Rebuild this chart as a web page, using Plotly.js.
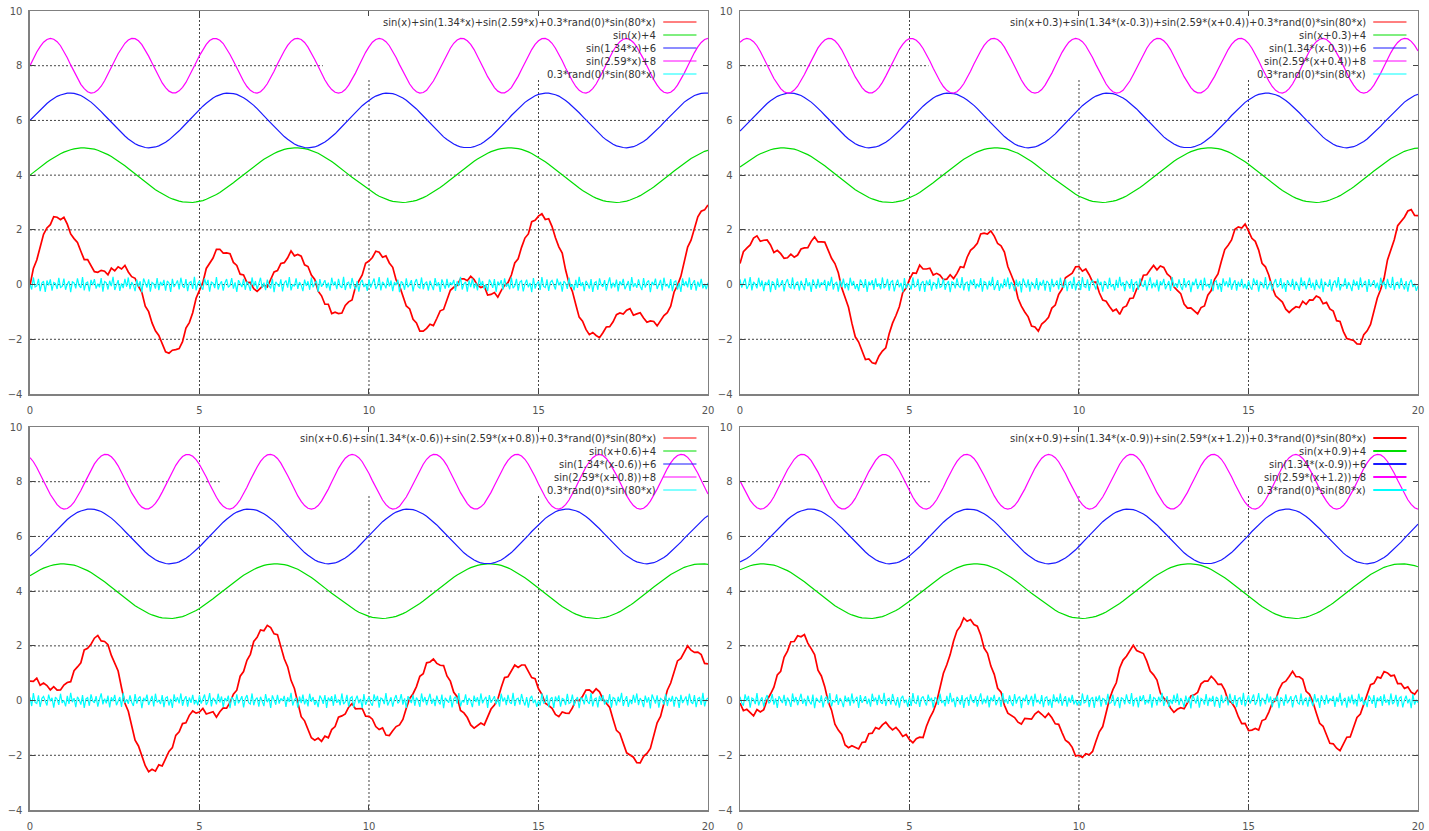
<!DOCTYPE html>
<html>
<head>
<meta charset="utf-8">
<script src="https://cdn.plot.ly/plotly-3.0.1.min.js"></script>
<style>html,body{margin:0;padding:0;background:#fff;}#chart{width:1429px;height:831px;}</style>
</head>
<body>
<div id="chart"></div>
<script>
// sampling: curves at x = 0, 0.1 ... 20 ; noise trace at x = 0, 0.05 ... 20
const X_START = 0;
const X_STEP = 0.1;
const NOISE_STEP = 0.05;
const X_RANGE = [0, 20];
const Y_RANGE = [-4, 10];
const xTickVals = [0, 5, 10, 15, 20];
const yTickVals = [-4, -2, 0, 2, 4, 6, 8, 10];

const legendText1 = ['sin(x)+sin(1.34*x)+sin(2.59*x)+0.3*rand(0)*sin(80*x)', 'sin(x)+4', 'sin(1.34*x)+6', 'sin(2.59*x)+8', '0.3*rand(0)*sin(80*x)'];
const legendText2 = ['sin(x+0.3)+sin(1.34*(x-0.3))+sin(2.59*(x+0.4))+0.3*rand(0)*sin(80*x)', 'sin(x+0.3)+4', 'sin(1.34*(x-0.3))+6', 'sin(2.59*(x+0.4))+8', '0.3*rand(0)*sin(80*x)'];
const legendText3 = ['sin(x+0.6)+sin(1.34*(x-0.6))+sin(2.59*(x+0.8))+0.3*rand(0)*sin(80*x)', 'sin(x+0.6)+4', 'sin(1.34*(x-0.6))+6', 'sin(2.59*(x+0.8))+8', '0.3*rand(0)*sin(80*x)'];
const legendText4 = ['sin(x+0.9)+sin(1.34*(x-0.9))+sin(2.59*(x+1.2))+0.3*rand(0)*sin(80*x)', 'sin(x+0.9)+4', 'sin(1.34*(x-0.9))+6', 'sin(2.59*(x+1.2))+8', '0.3*rand(0)*sin(80*x)'];

// ---------- panel 1 ----------
const red1 = [-0.03,0.59,0.90,1.35,1.84,2.07,2.19,2.48,2.46,2.37,
2.46,2.21,1.85,1.68,1.54,1.22,0.91,0.91,0.69,0.47,
0.45,0.52,0.49,0.36,0.60,0.50,0.65,0.57,0.70,0.46,
0.29,0.23,-0.07,-0.28,-0.79,-0.99,-1.40,-1.69,-1.86,-2.15,
-2.46,-2.51,-2.40,-2.38,-2.34,-2.09,-1.59,-1.39,-1.03,-0.50,
-0.18,0.08,0.59,0.79,0.97,1.29,1.29,1.15,1.16,1.13,
0.81,0.70,0.38,0.35,0.07,0.08,-0.15,-0.25,-0.11,-0.01,
-0.09,0.19,0.46,0.51,0.77,0.80,0.98,1.23,1.05,1.10,
1.04,0.72,0.66,0.35,0.19,-0.24,-0.41,-0.72,-0.72,-1.06,
-1.01,-1.06,-1.04,-0.76,-0.63,-0.56,-0.09,0.13,0.35,0.78,
0.86,0.99,1.22,1.18,1.00,1.05,0.79,0.63,0.17,-0.05,
-0.43,-0.78,-0.89,-1.27,-1.40,-1.70,-1.70,-1.60,-1.45,-1.50,
-1.24,-0.96,-0.91,-0.58,-0.21,-0.10,-0.03,0.21,0.21,0.14,
0.30,0.18,-0.03,-0.11,-0.06,-0.38,-0.36,-0.29,-0.46,-0.22,
-0.03,0.07,0.35,0.79,0.94,1.36,1.70,1.85,2.30,2.35,
2.50,2.59,2.38,2.41,2.12,1.71,1.38,1.15,0.53,0.05,
-0.25,-0.73,-1.19,-1.34,-1.64,-1.83,-1.75,-1.86,-1.94,-1.76,
-1.55,-1.54,-1.36,-1.10,-1.04,-1.08,-0.94,-0.88,-1.12,-1.07,
-1.03,-1.22,-1.38,-1.33,-1.35,-1.51,-1.32,-1.13,-1.03,-0.79,
-0.27,-0.03,0.30,0.86,1.37,1.62,2.03,2.48,2.68,2.73,
2.91];
const green1 = [4.00,4.10,4.20,4.30,4.39,4.48,4.56,4.64,4.72,4.78,
4.84,4.89,4.93,4.96,4.99,5.00,5.00,4.99,4.97,4.95,
4.91,4.86,4.81,4.75,4.68,4.60,4.52,4.43,4.34,4.24,
4.14,4.04,3.94,3.84,3.74,3.65,3.56,3.47,3.39,3.31,
3.24,3.18,3.13,3.08,3.05,3.02,3.01,3.00,3.00,3.02,
3.04,3.07,3.12,3.17,3.23,3.29,3.37,3.45,3.54,3.63,
3.72,3.82,3.92,4.02,4.12,4.22,4.31,4.40,4.49,4.58,
4.66,4.73,4.79,4.85,4.90,4.94,4.97,4.99,5.00,5.00,
4.99,4.97,4.94,4.90,4.85,4.80,4.73,4.66,4.59,4.50,
4.41,4.32,4.22,4.12,4.02,3.92,3.83,3.73,3.63,3.54,
3.46,3.37,3.30,3.23,3.17,3.12,3.08,3.04,3.02,3.00,
3.00,3.01,3.02,3.05,3.08,3.12,3.18,3.24,3.31,3.38,
3.46,3.55,3.64,3.74,3.83,3.93,4.03,4.13,4.23,4.33,
4.42,4.51,4.59,4.67,4.74,4.80,4.86,4.91,4.94,4.97,
4.99,5.00,5.00,4.99,4.97,4.94,4.90,4.85,4.79,4.72,
4.65,4.57,4.49,4.40,4.30,4.21,4.11,4.01,3.91,3.81,
3.71,3.62,3.53,3.44,3.36,3.29,3.22,3.16,3.11,3.07,
3.04,3.02,3.00,3.00,3.01,3.02,3.05,3.09,3.13,3.19,
3.25,3.32,3.39,3.48,3.57,3.66,3.75,3.85,3.95,4.05,
4.15,4.25,4.34,4.44,4.52,4.61,4.68,4.75,4.81,4.87,
4.91];
const blue1 = [6.00,6.13,6.26,6.39,6.51,6.62,6.72,6.81,6.88,6.93,
6.97,7.00,7.00,6.99,6.95,6.91,6.84,6.76,6.67,6.56,
6.45,6.32,6.19,6.06,5.93,5.79,5.66,5.54,5.43,5.32,
5.23,5.15,5.09,5.04,5.01,5.00,5.01,5.03,5.07,5.13,
5.20,5.29,5.39,5.50,5.62,5.75,5.88,6.01,6.15,6.28,
6.40,6.52,6.63,6.73,6.82,6.89,6.94,6.98,7.00,7.00,
6.98,6.95,6.90,6.83,6.75,6.66,6.55,6.43,6.31,6.18,
6.04,5.91,5.78,5.65,5.53,5.41,5.31,5.22,5.14,5.08,
5.04,5.01,5.00,5.01,5.03,5.08,5.14,5.21,5.30,5.40,
5.51,5.64,5.76,5.90,6.03,6.16,6.29,6.42,6.54,6.64,
6.74,6.82,6.89,6.94,6.98,7.00,7.00,6.98,6.94,6.89,
6.82,6.74,6.64,6.54,6.42,6.29,6.16,6.03,5.90,5.76,
5.64,5.51,5.40,5.30,5.21,5.14,5.08,5.03,5.01,5.00,
5.01,5.04,5.08,5.14,5.22,5.31,5.41,5.53,5.65,5.78,
5.91,6.04,6.18,6.31,6.43,6.55,6.66,6.75,6.83,6.90,
6.95,6.98,7.00,7.00,6.98,6.94,6.89,6.82,6.73,6.63,
6.52,6.41,6.28,6.15,6.02,5.88,5.75,5.62,5.50,5.39,
5.29,5.20,5.13,5.07,5.03,5.01,5.00,5.01,5.04,5.09,
5.15,5.23,5.32,5.43,5.54,5.66,5.79,5.93,6.06,6.19,
6.32,6.45,6.56,6.67,6.76,6.84,6.91,6.95,6.99,7.00,
7.00];
const magenta1 = [8.00,8.26,8.50,8.70,8.86,8.96,9.00,8.97,8.88,8.73,
8.52,8.29,8.03,7.78,7.53,7.32,7.16,7.05,7.00,7.02,
7.11,7.25,7.45,7.68,7.93,8.19,8.44,8.65,8.82,8.94,
9.00,8.99,8.91,8.77,8.58,8.35,8.10,7.84,7.59,7.37,
7.20,7.07,7.01,7.01,7.08,7.21,7.39,7.62,7.87,8.12,
8.37,8.60,8.78,8.92,8.99,8.99,8.93,8.81,8.63,8.41,
8.17,7.91,7.66,7.43,7.24,7.10,7.02,7.00,7.05,7.17,
7.34,7.56,7.80,8.06,8.31,8.54,8.74,8.89,8.98,9.00,
8.96,8.85,8.68,8.47,8.23,7.98,7.72,7.48,7.28,7.13,
7.03,7.00,7.03,7.13,7.29,7.50,7.73,7.99,8.25,8.49,
8.69,8.86,8.96,9.00,8.97,8.88,8.73,8.53,8.30,8.04,
7.79,7.54,7.33,7.16,7.05,7.00,7.02,7.10,7.25,7.44,
7.67,7.92,8.18,8.43,8.64,8.82,8.94,9.00,8.99,8.91,
8.78,8.59,8.36,8.11,7.85,7.60,7.38,7.20,7.07,7.01,
7.01,7.08,7.20,7.39,7.61,7.86,8.11,8.37,8.59,8.78,
8.91,8.99,9.00,8.94,8.82,8.64,8.42,8.18,7.92,7.67,
7.44,7.24,7.10,7.02,7.00,7.05,7.16,7.33,7.55,7.79,
8.05,8.30,8.54,8.73,8.88,8.97,9.00,8.96,8.85,8.69,
8.48,8.24,7.99,7.73,7.49,7.29,7.13,7.03,7.00,7.03,
7.13,7.29,7.49,7.73,7.98,8.24,8.48,8.69,8.85,8.96,
9.00];
const cyan1 = [0.00,-0.18,0.26,-0.09,-0.05,0.21,-0.24,0.06,0.12,-0.27,
0.15,-0.03,0.19,-0.22,0.08,0.04,-0.16,0.25,-0.11,-0.07,
0.22,-0.19,0.02,0.13,-0.28,0.10,0.06,-0.14,0.23,-0.04,
-0.12,0.27,-0.21,0.05,0.09,-0.25,0.17,-0.02,0.20,-0.15,
0.03,-0.10,0.24,-0.26,0.11,0.07,-0.18,0.14,-0.06,0.28,
-0.20,0.01,0.16,-0.23,0.04,-0.13,0.21,-0.08,0.26,-0.17,
0.09,-0.02,-0.24,0.18,-0.07,0.12,-0.29,0.22,0.05,-0.11,
0.19,-0.26,0.08,0.03,-0.15,0.24,-0.20,0.10,-0.04,0.17,
-0.22,0.13,0.06,-0.27,0.21,-0.09,0.02,0.15,-0.18,0.25,
-0.05,-0.12,0.20,-0.24,0.07,0.11,-0.16,0.28,-0.21,0.04,
0.14,-0.08,-0.19,0.23,-0.02,0.17,-0.26,0.09,0.05,-0.13,
0.27,-0.18,0.01,0.12,-0.22,0.06,0.20,-0.10,-0.03,0.24,
-0.15,0.08,-0.27,0.16,0.04,-0.09,0.21,-0.19,0.11,-0.01,
-0.23,0.26,-0.06,0.13,-0.17,0.02,0.25,-0.12,0.07,-0.20,
0.18,-0.04,-0.14,0.22,-0.28,0.10,0.03,-0.08,0.19,-0.25,
0.06,0.15,-0.11,0.27,-0.21,0.01,-0.07,0.23,-0.16,0.09,
-0.02,-0.24,0.18,-0.05,0.12,-0.19,0.26,-0.10,0.04,0.14,
-0.27,0.20,-0.08,0.02,0.16,-0.13,0.07,-0.22,0.25,-0.03,
0.11,-0.17,0.21,-0.06,-0.12,0.28,-0.20,0.05,0.09,-0.15,
0.24,-0.01,-0.18,0.13,-0.26,0.08,0.17,-0.09,0.03,-0.23,
0.19,-0.11,0.06,0.22,-0.16,-0.04,0.27,-0.21,0.10,0.02,
-0.14,0.25,-0.07,0.15,-0.24,0.09,-0.02,0.18,-0.28,0.12,
0.05,-0.19,0.23,-0.10,0.01,0.16,-0.25,0.07,0.20,-0.08,
-0.13,0.26,-0.17,0.04,0.11,-0.22,0.14,-0.03,-0.20,0.24,
-0.06,0.09,-0.27,0.19,0.02,-0.15,0.21,-0.11,0.08,-0.01,
0.17,-0.23,0.12,-0.05,0.28,-0.18,0.03,0.10,-0.26,0.15,
-0.09,0.22,-0.14,0.06,-0.21,0.25,-0.04,0.13,-0.16,0.01,
-0.24,0.18,0.07,-0.12,0.20,-0.27,0.11,-0.02,0.16,-0.19,
0.23,-0.08,0.04,-0.17,0.26,-0.13,-0.05,0.21,-0.22,0.09,
0.14,-0.25,0.02,0.18,-0.10,0.06,-0.28,0.24,-0.15,0.03,
0.12,-0.20,0.27,-0.07,-0.11,0.19,-0.23,0.08,0.15,-0.04,
-0.18,0.22,-0.02,0.10,-0.26,0.13,0.05,-0.16,0.25,-0.09,
0.01,-0.21,0.17,-0.12,0.28,-0.06,0.09,-0.24,0.14,0.03,
-0.15,0.20,-0.27,0.06,0.11,-0.19,0.23,-0.01,-0.08,0.16,
-0.22,0.04,0.26,-0.14,0.07,-0.10,0.18,-0.25,0.12,-0.03,
0.21,-0.17,0.02,0.13,-0.23,0.27,-0.09,0.05,-0.12,0.19,
-0.06,-0.20,0.24,-0.11,0.08,0.15,-0.28,0.10,-0.02,0.22,
-0.16,0.03,0.17,-0.21,0.25,-0.07,0.01,-0.13,0.20,-0.24,
0.09,0.14,-0.18,0.06,-0.27,0.23,-0.05,0.12,-0.10,0.26,
-0.19,0.04,0.16,-0.22,0.11,-0.08,0.21,-0.14,0.02,-0.17,
0.07];

// ---------- panel 2 ----------
const red2 = [0.77,1.20,1.33,1.45,1.70,1.78,1.58,1.62,1.63,1.45,
1.17,1.25,1.13,0.96,0.98,1.11,1.00,1.08,1.30,1.34,
1.35,1.58,1.74,1.56,1.56,1.55,1.26,0.96,0.77,0.43,
-0.12,-0.47,-0.83,-1.41,-1.91,-2.10,-2.43,-2.74,-2.72,-2.86,
-2.89,-2.61,-2.43,-2.31,-1.80,-1.41,-1.13,-0.81,-0.29,-0.13,
0.19,0.43,0.41,0.71,0.57,0.57,0.60,0.35,0.41,0.34,
0.18,0.20,0.36,0.22,0.41,0.65,0.62,1.00,1.25,1.36,
1.51,1.85,1.88,1.85,1.96,1.77,1.50,1.42,1.19,0.66,
0.36,0.05,-0.50,-0.79,-1.00,-1.18,-1.52,-1.55,-1.70,-1.44,
-1.34,-1.20,-0.86,-0.75,-0.36,-0.17,0.25,0.34,0.42,0.65,
0.66,0.49,0.57,0.36,0.10,0.09,-0.30,-0.57,-0.61,-0.80,
-0.97,-0.90,-1.09,-0.84,-0.78,-0.51,-0.49,-0.17,-0.02,0.34,
0.36,0.54,0.70,0.54,0.68,0.63,0.39,0.28,-0.08,-0.21,
-0.33,-0.71,-0.86,-0.85,-0.96,-1.07,-0.84,-0.78,-0.39,-0.22,
0.19,0.39,0.85,1.28,1.44,1.63,2.02,2.11,2.07,2.21,
1.96,1.69,1.58,1.26,0.78,0.65,0.34,-0.10,-0.41,-0.52,
-0.64,-0.90,-1.02,-0.90,-0.81,-0.84,-0.61,-0.72,-0.56,-0.57,
-0.42,-0.48,-0.70,-0.65,-0.89,-0.97,-1.32,-1.35,-1.72,-1.97,
-2.00,-2.04,-2.17,-2.18,-1.83,-1.69,-1.46,-0.97,-0.49,-0.17,
0.23,0.90,1.30,1.64,2.15,2.32,2.46,2.69,2.74,2.53,
2.52];
const green2 = [4.30,4.39,4.48,4.56,4.64,4.72,4.78,4.84,4.89,4.93,
4.96,4.99,5.00,5.00,4.99,4.97,4.95,4.91,4.86,4.81,
4.75,4.68,4.60,4.52,4.43,4.34,4.24,4.14,4.04,3.94,
3.84,3.74,3.65,3.56,3.47,3.39,3.31,3.24,3.18,3.13,
3.08,3.05,3.02,3.01,3.00,3.00,3.02,3.04,3.07,3.12,
3.17,3.23,3.29,3.37,3.45,3.54,3.63,3.72,3.82,3.92,
4.02,4.12,4.22,4.31,4.40,4.49,4.58,4.66,4.73,4.79,
4.85,4.90,4.94,4.97,4.99,5.00,5.00,4.99,4.97,4.94,
4.90,4.85,4.80,4.73,4.66,4.59,4.50,4.41,4.32,4.22,
4.12,4.02,3.92,3.83,3.73,3.63,3.54,3.46,3.37,3.30,
3.23,3.17,3.12,3.08,3.04,3.02,3.00,3.00,3.01,3.02,
3.05,3.08,3.12,3.18,3.24,3.31,3.38,3.46,3.55,3.64,
3.74,3.83,3.93,4.03,4.13,4.23,4.33,4.42,4.51,4.59,
4.67,4.74,4.80,4.86,4.91,4.94,4.97,4.99,5.00,5.00,
4.99,4.97,4.94,4.90,4.85,4.79,4.72,4.65,4.57,4.49,
4.40,4.30,4.21,4.11,4.01,3.91,3.81,3.71,3.62,3.53,
3.44,3.36,3.29,3.22,3.16,3.11,3.07,3.04,3.02,3.00,
3.00,3.01,3.02,3.05,3.09,3.13,3.19,3.25,3.32,3.39,
3.48,3.57,3.66,3.75,3.85,3.95,4.05,4.15,4.25,4.34,
4.44,4.52,4.61,4.68,4.75,4.81,4.87,4.91,4.95,4.98,
4.99];
const blue2 = [5.61,5.74,5.87,6.00,6.13,6.26,6.39,6.51,6.62,6.72,
6.81,6.88,6.93,6.97,7.00,7.00,6.99,6.95,6.91,6.84,
6.76,6.67,6.56,6.45,6.32,6.19,6.06,5.93,5.79,5.66,
5.54,5.43,5.32,5.23,5.15,5.09,5.04,5.01,5.00,5.01,
5.03,5.07,5.13,5.20,5.29,5.39,5.50,5.62,5.75,5.88,
6.01,6.15,6.28,6.40,6.52,6.63,6.73,6.82,6.89,6.94,
6.98,7.00,7.00,6.98,6.95,6.90,6.83,6.75,6.66,6.55,
6.43,6.31,6.18,6.04,5.91,5.78,5.65,5.53,5.41,5.31,
5.22,5.14,5.08,5.04,5.01,5.00,5.01,5.03,5.08,5.14,
5.21,5.30,5.40,5.51,5.64,5.76,5.90,6.03,6.16,6.29,
6.42,6.54,6.64,6.74,6.82,6.89,6.94,6.98,7.00,7.00,
6.98,6.94,6.89,6.82,6.74,6.64,6.54,6.42,6.29,6.16,
6.03,5.90,5.76,5.64,5.51,5.40,5.30,5.21,5.14,5.08,
5.03,5.01,5.00,5.01,5.04,5.08,5.14,5.22,5.31,5.41,
5.53,5.65,5.78,5.91,6.04,6.18,6.31,6.43,6.55,6.66,
6.75,6.83,6.90,6.95,6.98,7.00,7.00,6.98,6.94,6.89,
6.82,6.73,6.63,6.52,6.41,6.28,6.15,6.02,5.88,5.75,
5.62,5.50,5.39,5.29,5.20,5.13,5.07,5.03,5.01,5.00,
5.01,5.04,5.09,5.15,5.23,5.32,5.43,5.54,5.66,5.79,
5.93,6.06,6.19,6.32,6.45,6.56,6.67,6.76,6.84,6.91,
6.95];
const magenta2 = [8.86,8.96,9.00,8.97,8.88,8.73,8.52,8.29,8.03,7.78,
7.53,7.32,7.16,7.05,7.00,7.02,7.11,7.25,7.45,7.68,
7.93,8.19,8.44,8.65,8.82,8.94,9.00,8.99,8.91,8.77,
8.58,8.35,8.10,7.84,7.59,7.37,7.20,7.07,7.01,7.01,
7.08,7.21,7.39,7.62,7.87,8.12,8.37,8.60,8.78,8.92,
8.99,8.99,8.93,8.81,8.63,8.41,8.17,7.91,7.66,7.43,
7.24,7.10,7.02,7.00,7.05,7.17,7.34,7.56,7.80,8.06,
8.31,8.54,8.74,8.89,8.98,9.00,8.96,8.85,8.68,8.47,
8.23,7.98,7.72,7.48,7.28,7.13,7.03,7.00,7.03,7.13,
7.29,7.50,7.73,7.99,8.25,8.49,8.69,8.86,8.96,9.00,
8.97,8.88,8.73,8.53,8.30,8.04,7.79,7.54,7.33,7.16,
7.05,7.00,7.02,7.10,7.25,7.44,7.67,7.92,8.18,8.43,
8.64,8.82,8.94,9.00,8.99,8.91,8.78,8.59,8.36,8.11,
7.85,7.60,7.38,7.20,7.07,7.01,7.01,7.08,7.20,7.39,
7.61,7.86,8.11,8.37,8.59,8.78,8.91,8.99,9.00,8.94,
8.82,8.64,8.42,8.18,7.92,7.67,7.44,7.24,7.10,7.02,
7.00,7.05,7.16,7.33,7.55,7.79,8.05,8.30,8.54,8.73,
8.88,8.97,9.00,8.96,8.85,8.69,8.48,8.24,7.99,7.73,
7.49,7.29,7.13,7.03,7.00,7.03,7.13,7.29,7.49,7.73,
7.98,8.24,8.48,8.69,8.85,8.96,9.00,8.98,8.89,8.74,
8.54];
const cyan2 = [0.19,-0.11,0.06,0.22,-0.16,-0.04,0.27,-0.21,0.10,0.02,
-0.14,0.25,-0.07,0.15,-0.24,0.09,-0.02,0.18,-0.28,0.12,
0.05,-0.19,0.23,-0.10,0.01,0.16,-0.25,0.07,0.20,-0.08,
-0.13,0.26,-0.17,0.04,0.11,-0.22,0.14,-0.03,-0.20,0.24,
-0.06,0.09,-0.27,0.19,0.02,-0.15,0.21,-0.11,0.08,-0.01,
0.17,-0.23,0.12,-0.05,0.28,-0.18,0.03,0.10,-0.26,0.15,
-0.09,0.22,-0.14,0.06,-0.21,0.25,-0.04,0.13,-0.16,0.01,
-0.24,0.18,0.07,-0.12,0.20,-0.27,0.11,-0.02,0.16,-0.19,
0.23,-0.08,0.04,-0.17,0.26,-0.13,-0.05,0.21,-0.22,0.09,
0.14,-0.25,0.02,0.18,-0.10,0.06,-0.28,0.24,-0.15,0.03,
0.00,-0.18,0.26,-0.09,-0.05,0.21,-0.24,0.06,0.12,-0.27,
0.15,-0.03,0.19,-0.22,0.08,0.04,-0.16,0.25,-0.11,-0.07,
0.22,-0.19,0.02,0.13,-0.28,0.10,0.06,-0.14,0.23,-0.04,
-0.12,0.27,-0.21,0.05,0.09,-0.25,0.17,-0.02,0.20,-0.15,
0.03,-0.10,0.24,-0.26,0.11,0.07,-0.18,0.14,-0.06,0.28,
-0.20,0.01,0.16,-0.23,0.04,-0.13,0.21,-0.08,0.26,-0.17,
0.09,-0.02,-0.24,0.18,-0.07,0.12,-0.29,0.22,0.05,-0.11,
0.19,-0.26,0.08,0.03,-0.15,0.24,-0.20,0.10,-0.04,0.17,
-0.22,0.13,0.06,-0.27,0.21,-0.09,0.02,0.15,-0.18,0.25,
-0.05,-0.12,0.20,-0.24,0.07,0.11,-0.16,0.28,-0.21,0.04,
0.12,-0.20,0.27,-0.07,-0.11,0.19,-0.23,0.08,0.15,-0.04,
-0.18,0.22,-0.02,0.10,-0.26,0.13,0.05,-0.16,0.25,-0.09,
0.01,-0.21,0.17,-0.12,0.28,-0.06,0.09,-0.24,0.14,0.03,
-0.15,0.20,-0.27,0.06,0.11,-0.19,0.23,-0.01,-0.08,0.16,
-0.22,0.04,0.26,-0.14,0.07,-0.10,0.18,-0.25,0.12,-0.03,
0.21,-0.17,0.02,0.13,-0.23,0.27,-0.09,0.05,-0.12,0.19,
-0.06,-0.20,0.24,-0.11,0.08,0.15,-0.28,0.10,-0.02,0.22,
-0.16,0.03,0.17,-0.21,0.25,-0.07,0.01,-0.13,0.20,-0.24,
0.09,0.14,-0.18,0.06,-0.27,0.23,-0.05,0.12,-0.10,0.26,
-0.19,0.04,0.16,-0.22,0.11,-0.08,0.21,-0.14,0.02,-0.17,
0.14,-0.08,-0.19,0.23,-0.02,0.17,-0.26,0.09,0.05,-0.13,
0.27,-0.18,0.01,0.12,-0.22,0.06,0.20,-0.10,-0.03,0.24,
-0.15,0.08,-0.27,0.16,0.04,-0.09,0.21,-0.19,0.11,-0.01,
-0.23,0.26,-0.06,0.13,-0.17,0.02,0.25,-0.12,0.07,-0.20,
0.18,-0.04,-0.14,0.22,-0.28,0.10,0.03,-0.08,0.19,-0.25,
0.06,0.15,-0.11,0.27,-0.21,0.01,-0.07,0.23,-0.16,0.09,
-0.02,-0.24,0.18,-0.05,0.12,-0.19,0.26,-0.10,0.04,0.14,
-0.27,0.20,-0.08,0.02,0.16,-0.13,0.07,-0.22,0.25,-0.03,
0.11,-0.17,0.21,-0.06,-0.12,0.28,-0.20,0.05,0.09,-0.15,
0.24,-0.01,-0.18,0.13,-0.26,0.08,0.17,-0.09,0.03,-0.23,
-0.05];

// ---------- panel 3 ----------
const red3 = [0.71,0.70,0.82,0.56,0.64,0.55,0.39,0.51,0.38,0.39,
0.57,0.66,0.69,1.09,1.23,1.38,1.85,1.91,2.06,2.28,
2.38,2.18,2.16,2.04,1.65,1.39,1.08,0.47,-0.10,-0.39,
-0.93,-1.45,-1.66,-2.05,-2.38,-2.60,-2.51,-2.58,-2.35,-2.39,
-2.15,-1.86,-1.72,-1.27,-1.14,-0.84,-0.81,-0.54,-0.38,-0.46,
-0.42,-0.29,-0.49,-0.46,-0.41,-0.61,-0.41,-0.27,-0.28,-0.07,
0.23,0.38,0.89,1.06,1.47,1.69,2.16,2.31,2.58,2.55,
2.75,2.67,2.44,2.41,1.94,1.53,1.24,0.74,0.44,-0.08,
-0.59,-0.74,-1.03,-1.36,-1.45,-1.37,-1.49,-1.30,-1.36,-1.06,
-0.95,-0.61,-0.56,-0.49,-0.24,-0.11,-0.30,-0.29,-0.29,-0.57,
-0.58,-0.68,-0.95,-1.06,-1.00,-1.26,-1.28,-1.10,-0.95,-0.89,
-0.69,-0.28,0.08,0.25,0.51,0.89,0.98,1.38,1.41,1.52,
1.36,1.29,1.28,0.90,0.71,0.30,0.14,-0.36,-0.45,-0.62,
-0.89,-1.01,-0.93,-0.82,-0.89,-0.62,-0.31,-0.16,0.05,0.48,
0.84,0.87,1.09,1.30,1.21,1.30,1.30,1.04,0.84,0.80,
0.43,0.23,-0.10,-0.18,-0.28,-0.51,-0.59,-0.42,-0.46,-0.47,
-0.27,0.02,-0.01,0.16,0.38,0.39,0.28,0.43,0.32,0.06,
-0.09,-0.25,-0.68,-1.09,-1.20,-1.55,-1.91,-1.99,-2.07,-2.27,
-2.28,-2.04,-1.93,-1.75,-1.29,-0.81,-0.58,-0.11,0.38,0.64,
1.08,1.45,1.54,1.75,2.00,1.84,1.76,1.77,1.68,1.36,
1.34];
const green3 = [4.56,4.64,4.72,4.78,4.84,4.89,4.93,4.96,4.99,5.00,
5.00,4.99,4.97,4.95,4.91,4.86,4.81,4.75,4.68,4.60,
4.52,4.43,4.34,4.24,4.14,4.04,3.94,3.84,3.74,3.65,
3.56,3.47,3.39,3.31,3.24,3.18,3.13,3.08,3.05,3.02,
3.01,3.00,3.00,3.02,3.04,3.07,3.12,3.17,3.23,3.29,
3.37,3.45,3.54,3.63,3.72,3.82,3.92,4.02,4.12,4.22,
4.31,4.40,4.49,4.58,4.66,4.73,4.79,4.85,4.90,4.94,
4.97,4.99,5.00,5.00,4.99,4.97,4.94,4.90,4.85,4.80,
4.73,4.66,4.59,4.50,4.41,4.32,4.22,4.12,4.02,3.92,
3.83,3.73,3.63,3.54,3.46,3.37,3.30,3.23,3.17,3.12,
3.08,3.04,3.02,3.00,3.00,3.01,3.02,3.05,3.08,3.12,
3.18,3.24,3.31,3.38,3.46,3.55,3.64,3.74,3.83,3.93,
4.03,4.13,4.23,4.33,4.42,4.51,4.59,4.67,4.74,4.80,
4.86,4.91,4.94,4.97,4.99,5.00,5.00,4.99,4.97,4.94,
4.90,4.85,4.79,4.72,4.65,4.57,4.49,4.40,4.30,4.21,
4.11,4.01,3.91,3.81,3.71,3.62,3.53,3.44,3.36,3.29,
3.22,3.16,3.11,3.07,3.04,3.02,3.00,3.00,3.01,3.02,
3.05,3.09,3.13,3.19,3.25,3.32,3.39,3.48,3.57,3.66,
3.75,3.85,3.95,4.05,4.15,4.25,4.34,4.44,4.52,4.61,
4.68,4.75,4.81,4.87,4.91,4.95,4.98,4.99,5.00,5.00,
4.98];
const blue3 = [5.28,5.38,5.49,5.61,5.74,5.87,6.00,6.13,6.26,6.39,
6.51,6.62,6.72,6.81,6.88,6.93,6.97,7.00,7.00,6.99,
6.95,6.91,6.84,6.76,6.67,6.56,6.45,6.32,6.19,6.06,
5.93,5.79,5.66,5.54,5.43,5.32,5.23,5.15,5.09,5.04,
5.01,5.00,5.01,5.03,5.07,5.13,5.20,5.29,5.39,5.50,
5.62,5.75,5.88,6.01,6.15,6.28,6.40,6.52,6.63,6.73,
6.82,6.89,6.94,6.98,7.00,7.00,6.98,6.95,6.90,6.83,
6.75,6.66,6.55,6.43,6.31,6.18,6.04,5.91,5.78,5.65,
5.53,5.41,5.31,5.22,5.14,5.08,5.04,5.01,5.00,5.01,
5.03,5.08,5.14,5.21,5.30,5.40,5.51,5.64,5.76,5.90,
6.03,6.16,6.29,6.42,6.54,6.64,6.74,6.82,6.89,6.94,
6.98,7.00,7.00,6.98,6.94,6.89,6.82,6.74,6.64,6.54,
6.42,6.29,6.16,6.03,5.90,5.76,5.64,5.51,5.40,5.30,
5.21,5.14,5.08,5.03,5.01,5.00,5.01,5.04,5.08,5.14,
5.22,5.31,5.41,5.53,5.65,5.78,5.91,6.04,6.18,6.31,
6.43,6.55,6.66,6.75,6.83,6.90,6.95,6.98,7.00,7.00,
6.98,6.94,6.89,6.82,6.73,6.63,6.52,6.41,6.28,6.15,
6.02,5.88,5.75,5.62,5.50,5.39,5.29,5.20,5.13,5.07,
5.03,5.01,5.00,5.01,5.04,5.09,5.15,5.23,5.32,5.43,
5.54,5.66,5.79,5.93,6.06,6.19,6.32,6.45,6.56,6.67,
6.76];
const magenta3 = [8.88,8.73,8.52,8.29,8.03,7.78,7.53,7.32,7.16,7.05,
7.00,7.02,7.11,7.25,7.45,7.68,7.93,8.19,8.44,8.65,
8.82,8.94,9.00,8.99,8.91,8.77,8.58,8.35,8.10,7.84,
7.59,7.37,7.20,7.07,7.01,7.01,7.08,7.21,7.39,7.62,
7.87,8.12,8.37,8.60,8.78,8.92,8.99,8.99,8.93,8.81,
8.63,8.41,8.17,7.91,7.66,7.43,7.24,7.10,7.02,7.00,
7.05,7.17,7.34,7.56,7.80,8.06,8.31,8.54,8.74,8.89,
8.98,9.00,8.96,8.85,8.68,8.47,8.23,7.98,7.72,7.48,
7.28,7.13,7.03,7.00,7.03,7.13,7.29,7.50,7.73,7.99,
8.25,8.49,8.69,8.86,8.96,9.00,8.97,8.88,8.73,8.53,
8.30,8.04,7.79,7.54,7.33,7.16,7.05,7.00,7.02,7.10,
7.25,7.44,7.67,7.92,8.18,8.43,8.64,8.82,8.94,9.00,
8.99,8.91,8.78,8.59,8.36,8.11,7.85,7.60,7.38,7.20,
7.07,7.01,7.01,7.08,7.20,7.39,7.61,7.86,8.11,8.37,
8.59,8.78,8.91,8.99,9.00,8.94,8.82,8.64,8.42,8.18,
7.92,7.67,7.44,7.24,7.10,7.02,7.00,7.05,7.16,7.33,
7.55,7.79,8.05,8.30,8.54,8.73,8.88,8.97,9.00,8.96,
8.85,8.69,8.48,8.24,7.99,7.73,7.49,7.29,7.13,7.03,
7.00,7.03,7.13,7.29,7.49,7.73,7.98,8.24,8.48,8.69,
8.85,8.96,9.00,8.98,8.89,8.74,8.54,8.31,8.05,7.80,
7.55];
const cyan3 = [0.12,-0.20,0.27,-0.07,-0.11,0.19,-0.23,0.08,0.15,-0.04,
-0.18,0.22,-0.02,0.10,-0.26,0.13,0.05,-0.16,0.25,-0.09,
0.01,-0.21,0.17,-0.12,0.28,-0.06,0.09,-0.24,0.14,0.03,
-0.15,0.20,-0.27,0.06,0.11,-0.19,0.23,-0.01,-0.08,0.16,
-0.22,0.04,0.26,-0.14,0.07,-0.10,0.18,-0.25,0.12,-0.03,
0.21,-0.17,0.02,0.13,-0.23,0.27,-0.09,0.05,-0.12,0.19,
-0.06,-0.20,0.24,-0.11,0.08,0.15,-0.28,0.10,-0.02,0.22,
-0.16,0.03,0.17,-0.21,0.25,-0.07,0.01,-0.13,0.20,-0.24,
0.09,0.14,-0.18,0.06,-0.27,0.23,-0.05,0.12,-0.10,0.26,
-0.19,0.04,0.16,-0.22,0.11,-0.08,0.21,-0.14,0.02,-0.17,
0.19,-0.11,0.06,0.22,-0.16,-0.04,0.27,-0.21,0.10,0.02,
-0.14,0.25,-0.07,0.15,-0.24,0.09,-0.02,0.18,-0.28,0.12,
0.05,-0.19,0.23,-0.10,0.01,0.16,-0.25,0.07,0.20,-0.08,
-0.13,0.26,-0.17,0.04,0.11,-0.22,0.14,-0.03,-0.20,0.24,
-0.06,0.09,-0.27,0.19,0.02,-0.15,0.21,-0.11,0.08,-0.01,
0.17,-0.23,0.12,-0.05,0.28,-0.18,0.03,0.10,-0.26,0.15,
-0.09,0.22,-0.14,0.06,-0.21,0.25,-0.04,0.13,-0.16,0.01,
-0.24,0.18,0.07,-0.12,0.20,-0.27,0.11,-0.02,0.16,-0.19,
0.23,-0.08,0.04,-0.17,0.26,-0.13,-0.05,0.21,-0.22,0.09,
0.14,-0.25,0.02,0.18,-0.10,0.06,-0.28,0.24,-0.15,0.03,
0.14,-0.08,-0.19,0.23,-0.02,0.17,-0.26,0.09,0.05,-0.13,
0.27,-0.18,0.01,0.12,-0.22,0.06,0.20,-0.10,-0.03,0.24,
-0.15,0.08,-0.27,0.16,0.04,-0.09,0.21,-0.19,0.11,-0.01,
-0.23,0.26,-0.06,0.13,-0.17,0.02,0.25,-0.12,0.07,-0.20,
0.18,-0.04,-0.14,0.22,-0.28,0.10,0.03,-0.08,0.19,-0.25,
0.06,0.15,-0.11,0.27,-0.21,0.01,-0.07,0.23,-0.16,0.09,
-0.02,-0.24,0.18,-0.05,0.12,-0.19,0.26,-0.10,0.04,0.14,
-0.27,0.20,-0.08,0.02,0.16,-0.13,0.07,-0.22,0.25,-0.03,
0.11,-0.17,0.21,-0.06,-0.12,0.28,-0.20,0.05,0.09,-0.15,
0.24,-0.01,-0.18,0.13,-0.26,0.08,0.17,-0.09,0.03,-0.23,
0.00,-0.18,0.26,-0.09,-0.05,0.21,-0.24,0.06,0.12,-0.27,
0.15,-0.03,0.19,-0.22,0.08,0.04,-0.16,0.25,-0.11,-0.07,
0.22,-0.19,0.02,0.13,-0.28,0.10,0.06,-0.14,0.23,-0.04,
-0.12,0.27,-0.21,0.05,0.09,-0.25,0.17,-0.02,0.20,-0.15,
0.03,-0.10,0.24,-0.26,0.11,0.07,-0.18,0.14,-0.06,0.28,
-0.20,0.01,0.16,-0.23,0.04,-0.13,0.21,-0.08,0.26,-0.17,
0.09,-0.02,-0.24,0.18,-0.07,0.12,-0.29,0.22,0.05,-0.11,
0.19,-0.26,0.08,0.03,-0.15,0.24,-0.20,0.10,-0.04,0.17,
-0.22,0.13,0.06,-0.27,0.21,-0.09,0.02,0.15,-0.18,0.25,
-0.05,-0.12,0.20,-0.24,0.07,0.11,-0.16,0.28,-0.21,0.04,
0.10];

// ---------- panel 4 ----------
const red4 = [-0.09,-0.37,-0.32,-0.46,-0.56,-0.33,-0.42,-0.33,0.02,0.24,
0.49,0.94,1.07,1.58,1.81,2.15,2.16,2.37,2.33,2.41,
2.10,1.90,1.68,1.11,0.90,0.51,-0.03,-0.35,-0.86,-1.08,
-1.24,-1.62,-1.72,-1.65,-1.72,-1.77,-1.53,-1.51,-1.21,-1.19,
-0.99,-1.04,-0.89,-0.79,-0.95,-1.07,-0.98,-1.12,-1.31,-1.24,
-1.43,-1.54,-1.39,-1.34,-1.35,-0.94,-0.63,-0.40,-0.05,0.50,
1.00,1.31,1.68,2.18,2.55,2.72,3.02,2.90,2.96,2.78,
2.72,2.40,1.92,1.73,1.26,0.96,0.45,0.31,-0.17,-0.46,
-0.54,-0.62,-0.79,-0.86,-0.65,-0.67,-0.68,-0.49,-0.39,-0.50,
-0.62,-0.47,-0.63,-0.85,-0.87,-1.17,-1.45,-1.54,-1.71,-2.03,
-2.00,-2.08,-1.94,-1.98,-1.86,-1.49,-1.14,-0.95,-0.47,0.06,
0.40,0.65,1.19,1.48,1.62,1.82,2.02,1.83,1.77,1.72,
1.44,1.08,0.94,0.75,0.28,0.09,-0.02,-0.27,-0.43,-0.32,
-0.26,-0.30,-0.08,0.17,0.21,0.30,0.61,0.71,0.71,0.89,
0.76,0.59,0.60,0.38,-0.01,-0.07,-0.26,-0.59,-0.84,-0.83,
-1.10,-1.08,-1.02,-1.08,-0.73,-0.68,-0.42,-0.09,0.01,0.40,
0.64,0.71,0.88,1.07,0.87,0.87,0.78,0.34,0.23,-0.05,
-0.45,-0.83,-0.94,-1.28,-1.56,-1.58,-1.74,-1.83,-1.59,-1.34,
-1.33,-0.99,-0.62,-0.49,-0.11,0.27,0.58,0.63,0.86,0.82,
1.06,1.01,0.90,0.93,0.62,0.62,0.44,0.50,0.31,0.23,
0.40];
const green4 = [4.78,4.84,4.89,4.93,4.96,4.99,5.00,5.00,4.99,4.97,
4.95,4.91,4.86,4.81,4.75,4.68,4.60,4.52,4.43,4.34,
4.24,4.14,4.04,3.94,3.84,3.74,3.65,3.56,3.47,3.39,
3.31,3.24,3.18,3.13,3.08,3.05,3.02,3.01,3.00,3.00,
3.02,3.04,3.07,3.12,3.17,3.23,3.29,3.37,3.45,3.54,
3.63,3.72,3.82,3.92,4.02,4.12,4.22,4.31,4.40,4.49,
4.58,4.66,4.73,4.79,4.85,4.90,4.94,4.97,4.99,5.00,
5.00,4.99,4.97,4.94,4.90,4.85,4.80,4.73,4.66,4.59,
4.50,4.41,4.32,4.22,4.12,4.02,3.92,3.83,3.73,3.63,
3.54,3.46,3.37,3.30,3.23,3.17,3.12,3.08,3.04,3.02,
3.00,3.00,3.01,3.02,3.05,3.08,3.12,3.18,3.24,3.31,
3.38,3.46,3.55,3.64,3.74,3.83,3.93,4.03,4.13,4.23,
4.33,4.42,4.51,4.59,4.67,4.74,4.80,4.86,4.91,4.94,
4.97,4.99,5.00,5.00,4.99,4.97,4.94,4.90,4.85,4.79,
4.72,4.65,4.57,4.49,4.40,4.30,4.21,4.11,4.01,3.91,
3.81,3.71,3.62,3.53,3.44,3.36,3.29,3.22,3.16,3.11,
3.07,3.04,3.02,3.00,3.00,3.01,3.02,3.05,3.09,3.13,
3.19,3.25,3.32,3.39,3.48,3.57,3.66,3.75,3.85,3.95,
4.05,4.15,4.25,4.34,4.44,4.52,4.61,4.68,4.75,4.81,
4.87,4.91,4.95,4.98,4.99,5.00,5.00,4.98,4.96,4.93,
4.89];
const blue4 = [5.07,5.12,5.19,5.28,5.38,5.49,5.61,5.74,5.87,6.00,
6.13,6.26,6.39,6.51,6.62,6.72,6.81,6.88,6.93,6.97,
7.00,7.00,6.99,6.95,6.91,6.84,6.76,6.67,6.56,6.45,
6.32,6.19,6.06,5.93,5.79,5.66,5.54,5.43,5.32,5.23,
5.15,5.09,5.04,5.01,5.00,5.01,5.03,5.07,5.13,5.20,
5.29,5.39,5.50,5.62,5.75,5.88,6.01,6.15,6.28,6.40,
6.52,6.63,6.73,6.82,6.89,6.94,6.98,7.00,7.00,6.98,
6.95,6.90,6.83,6.75,6.66,6.55,6.43,6.31,6.18,6.04,
5.91,5.78,5.65,5.53,5.41,5.31,5.22,5.14,5.08,5.04,
5.01,5.00,5.01,5.03,5.08,5.14,5.21,5.30,5.40,5.51,
5.64,5.76,5.90,6.03,6.16,6.29,6.42,6.54,6.64,6.74,
6.82,6.89,6.94,6.98,7.00,7.00,6.98,6.94,6.89,6.82,
6.74,6.64,6.54,6.42,6.29,6.16,6.03,5.90,5.76,5.64,
5.51,5.40,5.30,5.21,5.14,5.08,5.03,5.01,5.00,5.01,
5.04,5.08,5.14,5.22,5.31,5.41,5.53,5.65,5.78,5.91,
6.04,6.18,6.31,6.43,6.55,6.66,6.75,6.83,6.90,6.95,
6.98,7.00,7.00,6.98,6.94,6.89,6.82,6.73,6.63,6.52,
6.41,6.28,6.15,6.02,5.88,5.75,5.62,5.50,5.39,5.29,
5.20,5.13,5.07,5.03,5.01,5.00,5.01,5.04,5.09,5.15,
5.23,5.32,5.43,5.54,5.66,5.79,5.93,6.06,6.19,6.32,
6.45];
const magenta4 = [8.03,7.78,7.53,7.32,7.16,7.05,7.00,7.02,7.11,7.25,
7.45,7.68,7.93,8.19,8.44,8.65,8.82,8.94,9.00,8.99,
8.91,8.77,8.58,8.35,8.10,7.84,7.59,7.37,7.20,7.07,
7.01,7.01,7.08,7.21,7.39,7.62,7.87,8.12,8.37,8.60,
8.78,8.92,8.99,8.99,8.93,8.81,8.63,8.41,8.17,7.91,
7.66,7.43,7.24,7.10,7.02,7.00,7.05,7.17,7.34,7.56,
7.80,8.06,8.31,8.54,8.74,8.89,8.98,9.00,8.96,8.85,
8.68,8.47,8.23,7.98,7.72,7.48,7.28,7.13,7.03,7.00,
7.03,7.13,7.29,7.50,7.73,7.99,8.25,8.49,8.69,8.86,
8.96,9.00,8.97,8.88,8.73,8.53,8.30,8.04,7.79,7.54,
7.33,7.16,7.05,7.00,7.02,7.10,7.25,7.44,7.67,7.92,
8.18,8.43,8.64,8.82,8.94,9.00,8.99,8.91,8.78,8.59,
8.36,8.11,7.85,7.60,7.38,7.20,7.07,7.01,7.01,7.08,
7.20,7.39,7.61,7.86,8.11,8.37,8.59,8.78,8.91,8.99,
9.00,8.94,8.82,8.64,8.42,8.18,7.92,7.67,7.44,7.24,
7.10,7.02,7.00,7.05,7.16,7.33,7.55,7.79,8.05,8.30,
8.54,8.73,8.88,8.97,9.00,8.96,8.85,8.69,8.48,8.24,
7.99,7.73,7.49,7.29,7.13,7.03,7.00,7.03,7.13,7.29,
7.49,7.73,7.98,8.24,8.48,8.69,8.85,8.96,9.00,8.98,
8.89,8.74,8.54,8.31,8.05,7.80,7.55,7.34,7.17,7.05,
7.00];
const cyan4 = [0.14,-0.08,-0.19,0.23,-0.02,0.17,-0.26,0.09,0.05,-0.13,
0.27,-0.18,0.01,0.12,-0.22,0.06,0.20,-0.10,-0.03,0.24,
-0.15,0.08,-0.27,0.16,0.04,-0.09,0.21,-0.19,0.11,-0.01,
-0.23,0.26,-0.06,0.13,-0.17,0.02,0.25,-0.12,0.07,-0.20,
0.18,-0.04,-0.14,0.22,-0.28,0.10,0.03,-0.08,0.19,-0.25,
0.06,0.15,-0.11,0.27,-0.21,0.01,-0.07,0.23,-0.16,0.09,
-0.02,-0.24,0.18,-0.05,0.12,-0.19,0.26,-0.10,0.04,0.14,
-0.27,0.20,-0.08,0.02,0.16,-0.13,0.07,-0.22,0.25,-0.03,
0.11,-0.17,0.21,-0.06,-0.12,0.28,-0.20,0.05,0.09,-0.15,
0.24,-0.01,-0.18,0.13,-0.26,0.08,0.17,-0.09,0.03,-0.23,
0.12,-0.20,0.27,-0.07,-0.11,0.19,-0.23,0.08,0.15,-0.04,
-0.18,0.22,-0.02,0.10,-0.26,0.13,0.05,-0.16,0.25,-0.09,
0.01,-0.21,0.17,-0.12,0.28,-0.06,0.09,-0.24,0.14,0.03,
-0.15,0.20,-0.27,0.06,0.11,-0.19,0.23,-0.01,-0.08,0.16,
-0.22,0.04,0.26,-0.14,0.07,-0.10,0.18,-0.25,0.12,-0.03,
0.21,-0.17,0.02,0.13,-0.23,0.27,-0.09,0.05,-0.12,0.19,
-0.06,-0.20,0.24,-0.11,0.08,0.15,-0.28,0.10,-0.02,0.22,
-0.16,0.03,0.17,-0.21,0.25,-0.07,0.01,-0.13,0.20,-0.24,
0.09,0.14,-0.18,0.06,-0.27,0.23,-0.05,0.12,-0.10,0.26,
-0.19,0.04,0.16,-0.22,0.11,-0.08,0.21,-0.14,0.02,-0.17,
0.00,-0.18,0.26,-0.09,-0.05,0.21,-0.24,0.06,0.12,-0.27,
0.15,-0.03,0.19,-0.22,0.08,0.04,-0.16,0.25,-0.11,-0.07,
0.22,-0.19,0.02,0.13,-0.28,0.10,0.06,-0.14,0.23,-0.04,
-0.12,0.27,-0.21,0.05,0.09,-0.25,0.17,-0.02,0.20,-0.15,
0.03,-0.10,0.24,-0.26,0.11,0.07,-0.18,0.14,-0.06,0.28,
-0.20,0.01,0.16,-0.23,0.04,-0.13,0.21,-0.08,0.26,-0.17,
0.09,-0.02,-0.24,0.18,-0.07,0.12,-0.29,0.22,0.05,-0.11,
0.19,-0.26,0.08,0.03,-0.15,0.24,-0.20,0.10,-0.04,0.17,
-0.22,0.13,0.06,-0.27,0.21,-0.09,0.02,0.15,-0.18,0.25,
-0.05,-0.12,0.20,-0.24,0.07,0.11,-0.16,0.28,-0.21,0.04,
0.19,-0.11,0.06,0.22,-0.16,-0.04,0.27,-0.21,0.10,0.02,
-0.14,0.25,-0.07,0.15,-0.24,0.09,-0.02,0.18,-0.28,0.12,
0.05,-0.19,0.23,-0.10,0.01,0.16,-0.25,0.07,0.20,-0.08,
-0.13,0.26,-0.17,0.04,0.11,-0.22,0.14,-0.03,-0.20,0.24,
-0.06,0.09,-0.27,0.19,0.02,-0.15,0.21,-0.11,0.08,-0.01,
0.17,-0.23,0.12,-0.05,0.28,-0.18,0.03,0.10,-0.26,0.15,
-0.09,0.22,-0.14,0.06,-0.21,0.25,-0.04,0.13,-0.16,0.01,
-0.24,0.18,0.07,-0.12,0.20,-0.27,0.11,-0.02,0.16,-0.19,
0.23,-0.08,0.04,-0.17,0.26,-0.13,-0.05,0.21,-0.22,0.09,
0.14,-0.25,0.02,0.18,-0.10,0.06,-0.28,0.24,-0.15,0.03,
-0.08];

// ---------- assembly ----------
const panels = [
  {red: red1, green: green1, blue: blue1, magenta: magenta1, cyan: cyan1, labels: legendText1},
  {red: red2, green: green2, blue: blue2, magenta: magenta2, cyan: cyan2, labels: legendText2},
  {red: red3, green: green3, blue: blue3, magenta: magenta3, cyan: cyan3, labels: legendText3},
  {red: red4, green: green4, blue: blue4, magenta: magenta4, cyan: cyan4, labels: legendText4}
];
const seriesOrder = ['red', 'green', 'blue', 'magenta', 'cyan'];
const colors = {red: '#ff0000', green: '#00dd00', blue: '#1a1aff', magenta: '#ff00ff', cyan: '#00ffff'};
const steps = {red: X_STEP, green: X_STEP, blue: X_STEP, magenta: X_STEP, cyan: NOISE_STEP};
const widths = {red: 1.7, green: 1.2, blue: 1.2, magenta: 1.2, cyan: 1.2};

const xDomains = [[0.02099, 0.49545], [0.51785, 0.99230], [0.02099, 0.49545], [0.51785, 0.99230]];
const yDomains = [[0.52587, 0.98676], [0.52587, 0.98676], [0.02527, 0.48616], [0.02527, 0.48616]];
const keyLeft = [0.432, 0.278, 0.280, 0.280];      // left edge of the key box (fraction of panel width)
const keySampleWidth = [1, 1, 1, 2];
const PANEL_H = 383;
const KEY_H = 69;

const tickFont = {family: 'DejaVu Sans, Liberation Sans, sans-serif', size: 10, color: '#555'};
const keyFont = {family: 'DejaVu Sans, Liberation Sans, sans-serif', size: 10, color: '#333'};
const gridLine = {color: '#444', width: 1, dash: '2px,2px'};

const traces = [];
const layout = {
  width: 1429, height: 831,
  margin: {l: 0, r: 0, t: 0, b: 0},
  paper_bgcolor: '#ffffff', plot_bgcolor: '#ffffff',
  showlegend: false,
  shapes: [], annotations: []
};

panels.forEach((p, i) => {
  const n = i === 0 ? '' : String(i + 1);
  const xa = 'x' + n, ya = 'y' + n;
  seriesOrder.forEach(s => {
    traces.push({
      type: 'scatter', mode: 'lines',
      x0: X_START, dx: steps[s], y: p[s],
      xaxis: xa, yaxis: ya,
      line: {color: colors[s], width: widths[s]},
      hoverinfo: 'skip'
    });
  });
  const common = {
    ticks: 'inside', ticklen: 5, tickwidth: 1, tickcolor: '#444',
    showline: true, linecolor: '#808080', linewidth: 1.5, mirror: 'ticks',
    showgrid: false, zeroline: false, tickfont: tickFont, fixedrange: true
  };
  layout['xaxis' + n] = Object.assign({}, common, {
    domain: xDomains[i], anchor: ya, range: X_RANGE, tickvals: xTickVals, ticklabelstandoff: 6
  });
  layout['yaxis' + n] = Object.assign({}, common, {
    domain: yDomains[i], anchor: xa, range: Y_RANGE, tickvals: yTickVals, ticklabelstandoff: 4
  });

  // grid lines at the ticks, interrupted by the key box (as gnuplot does)
  const keyLeftX = X_RANGE[0] + keyLeft[i] * (X_RANGE[1] - X_RANGE[0]);
  const keyBottomY = Y_RANGE[0] + (1 - KEY_H / PANEL_H) * (Y_RANGE[1] - Y_RANGE[0]);
  xTickVals.filter(v => v > X_RANGE[0] && v < X_RANGE[1]).forEach(v => {
    layout.shapes.push({type: 'line', xref: xa, yref: ya, layer: 'below',
      x0: v, x1: v, y0: Y_RANGE[0], y1: v >= keyLeftX ? keyBottomY : Y_RANGE[1], line: gridLine});
  });
  yTickVals.filter(v => v > Y_RANGE[0] && v < Y_RANGE[1]).forEach(v => {
    layout.shapes.push({type: 'line', xref: xa, yref: ya, layer: 'below',
      x0: X_RANGE[0], x1: v >= keyBottomY ? keyLeftX : X_RANGE[1], y0: v, y1: v, line: gridLine});
  });

  // key: right-aligned titles with a line sample to their right
  p.labels.forEach((txt, j) => {
    const yy = 1 - (11 + 13 * j) / PANEL_H;
    layout.annotations.push({
      xref: xa + ' domain', yref: ya + ' domain', x: 0.926, y: yy,
      xanchor: 'right', yanchor: 'middle', text: txt, showarrow: false, font: keyFont
    });
    layout.shapes.push({
      type: 'line', xref: xa + ' domain', yref: ya + ' domain',
      x0: 0.934, x1: 0.983, y0: yy, y1: yy,
      line: {color: colors[seriesOrder[j]], width: keySampleWidth[i]}
    });
  });
});

Plotly.newPlot('chart', traces, layout, {displayModeBar: false, staticPlot: true});
</script>
</body>
</html>
